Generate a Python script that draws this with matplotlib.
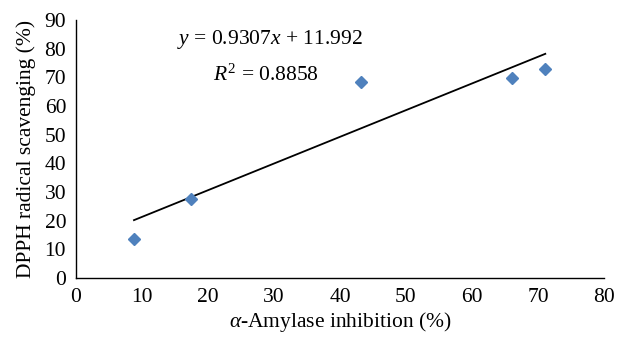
import numpy as np
import matplotlib
matplotlib.use("Agg")
import matplotlib.pyplot as plt

plt.rcParams['font.family'] = ['Liberation Serif', 'DejaVu Serif']
plt.rcParams['mathtext.fontset'] = 'custom'
plt.rcParams['mathtext.rm'] = 'Liberation Serif'
plt.rcParams['mathtext.it'] = 'Liberation Serif:italic'

# === Dane ===
amylase = [8.8, 17.4, 43.2, 66.0, 71.1]
dpph = [13.6, 27.4, 68.4, 69.9, 72.8]
slope = 0.9307
intercept = 11.992
r2 = 0.8858
xticks = list(range(0, 81, 10))
yticks = list(range(0, 91, 10))

fig = plt.figure(figsize=(6.17, 3.37), dpi=100)
ax = fig.add_axes([0.123, 0.175, 0.856, 0.766])

# linia trendu w zakresie danych
xs = np.array([min(amylase), max(amylase)])
ax.plot(xs, slope * xs + intercept, color='black', lw=1.3, zorder=2)
ax.plot(amylase, dpph, 'D', color='#4F81BD', markersize=6, zorder=3)

ax.set_xlim(0, 80)
ax.set_ylim(0, 90)
ax.set_xticks(xticks)
ax.set_yticks(yticks)
ax.tick_params(length=0, labelsize=15.5)
ax.tick_params(axis='x', pad=7)
ax.tick_params(axis='y', pad=7)
for s in ['top', 'right']:
    ax.spines[s].set_visible(False)
for s in ['left', 'bottom']:
    ax.spines[s].set_linewidth(1.0)

ax.set_xlabel(r'$\alpha$-Amylase inhibition (%)', fontsize=15.5, labelpad=2)
ax.set_ylabel('DPPH radical scavenging (%)', fontsize=15.5, labelpad=6)

ax.text(15.3, 83.0, r'$y$ = 0.9307$x$ + 11.992', fontsize=15.5, va='center')
ax.text(20.8, 70.8, r'$R^2$ = 0.8858', fontsize=15.5, va='center')

fig.savefig("out.png", dpi=100)
